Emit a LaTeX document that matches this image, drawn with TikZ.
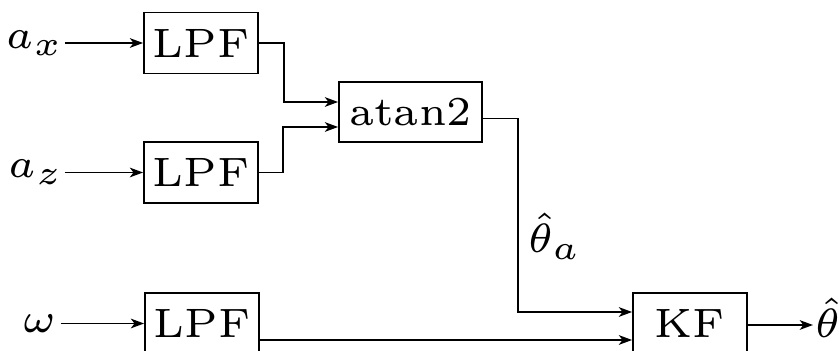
\documentclass[tikz,border=0pt]{standalone}
\usepackage{graphicx}
\usetikzlibrary{arrows.meta,calc}
% labels: small design size, enlarged
\newcommand\sm[1]{\scalebox{1.71}{\fontsize{6}{7}\selectfont #1}}
\begin{document}
\begin{tikzpicture}[x=0.25pt,y=-0.25pt,line width=0.45pt,
  block/.style={draw,inner sep=0pt,minimum width=28.5pt,minimum height=15.25pt},
  lbl/.style={inner sep=0pt},
  sig/.style={-{Stealth[length=3.3pt,width=2.4pt,inset=0.9pt]}}]
\useasboundingbox (0,0) rectangle (839,351);
\clip (0,0) rectangle (839,351);

% blocks
\node[block] (lpf1) at (201,43) {\sm{LPF}};
\node[block] (lpf2) at (201,172.5) {\sm{LPF}};
\node[block] (lpf3) at (202,323.5) {\sm{LPF}};
\node[block,minimum width=35.75pt,minimum height=15pt] (atan) at (410.5,112) {\sm{atan2}};
\node[block] (kf) at (690,323.5) {\sm{KF}};

% signals
\node[lbl,anchor=east] (ax) at (65,43) {\sm{$a_x$}};
\node[lbl,anchor=east] (az) at (65,172.5) {\sm{$a_z$}};
\node[lbl,anchor=east] (w) at (57,323.5) {\sm{$\omega$}};
\node[lbl] (tha) at (555,236) {\sm{$\hat\theta_a$}};
\node[lbl,anchor=west] (th) at (814,318) {\sm{$\hat\theta$}};
\coordinate (out) at (813,325);

% connectors
\draw[sig] (ax.east) -- (lpf1.west);
\draw[sig] (az.east) -- (lpf2.west);
\draw[sig] ($(w.east)+(4,0)$) -- (lpf3.west);
\draw[sig] (lpf1.east) -- ++(25,0) |- ($(atan.west)+(0,-10)$);
\draw[sig] (lpf2.east) -- ++(24,0) |- ($(atan.west)+(0,15)$);
\draw[sig] ($(atan.east)+(0,6.5)$) -- ++(35,0) |- ($(kf.west)+(0,-11.5)$);
\draw[sig] ($(lpf3.east)+(0,16.5)$) -- ($(kf.west)+(0,16.5)$);
\draw[sig] ($(kf.east)+(0,1.5)$) -- (out);
\end{tikzpicture}
\end{document}
